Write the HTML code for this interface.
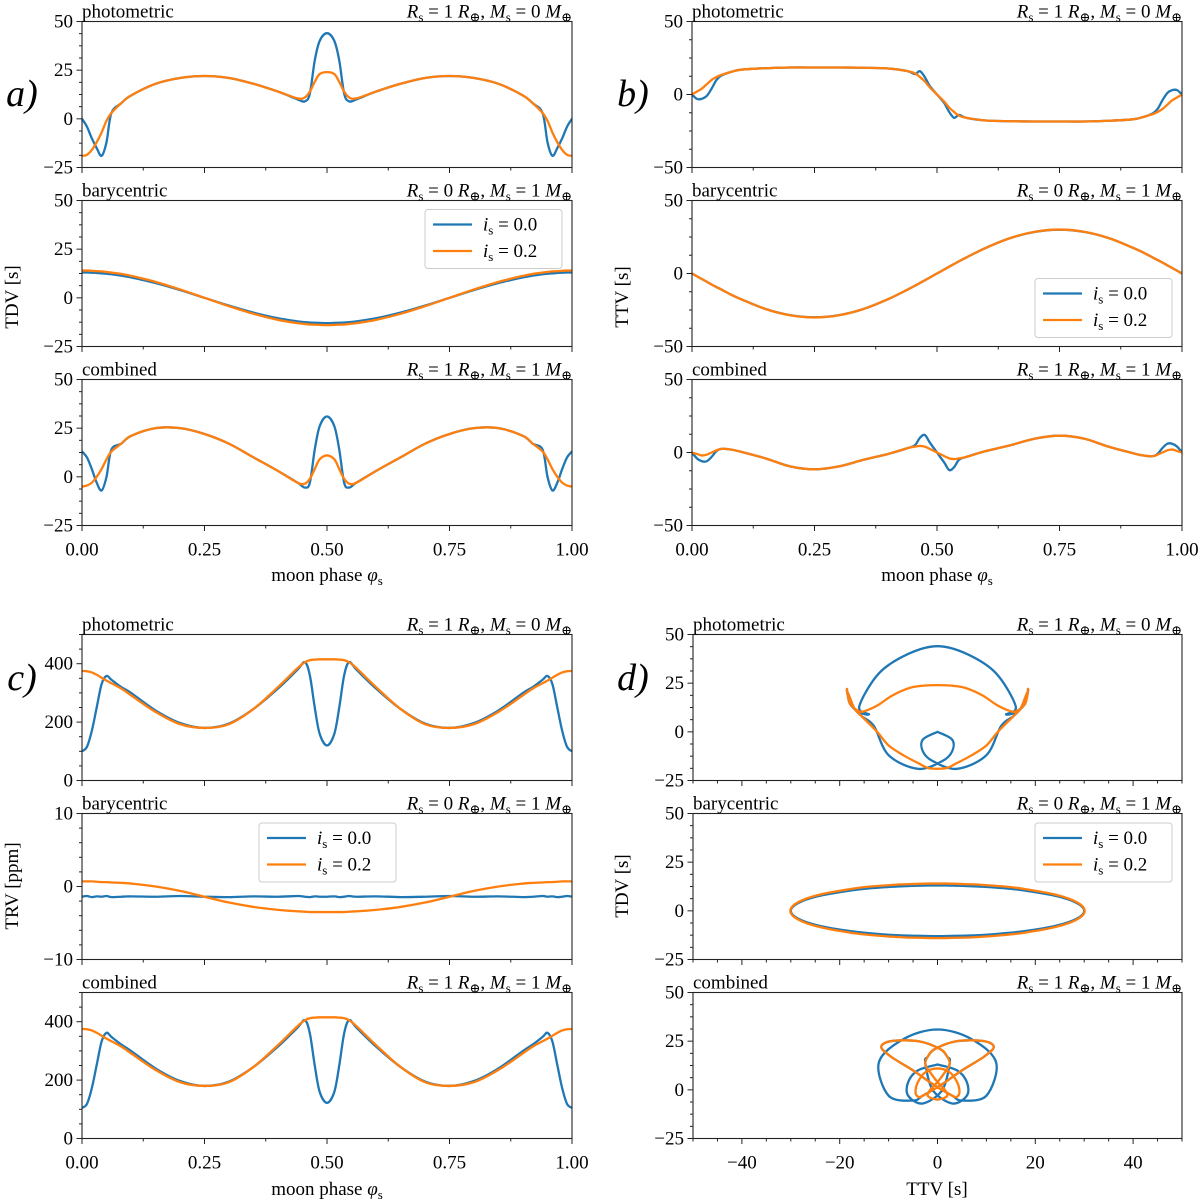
<!DOCTYPE html>
<html><head><meta charset="utf-8"><style>
html,body{margin:0;padding:0;background:#fff}
svg{display:block}
text{font-family:"Liberation Serif","DejaVu Serif",serif;fill:#000}
</style></head><body>
<svg id="fig" width="1200" height="1202" viewBox="0 0 1200 1202" xmlns="http://www.w3.org/2000/svg"></svg>
<script>
const phases=[0,.01,.02,.03,.04,.05,.06,.08,.1,.15,.2,.25,.3,.35,.4,.44,.455,.465,.475,.485,.5,.515,.525,.535,.545,.56,.6,.65,.7,.75,.8,.85,.9,.92,.94,.95,.96,.97,.98,.99,1];
const tdvPhotoBlue=[0,-4,-10,-15,-19,-12,3,8,12,18,21,22,21,18,14,10,9,13,30,40,44,40,30,13,9,10,14,18,21,22,21,18,12,8,3,-12,-19,-15,-10,-4,0];
const tdvPhotoOrange=[-19,-18.5,-16,-12,-7,-1,3,8,12,18,21,22,21,18,14,10.5,11,14,19,23,24,23,19,14,11,10.5,14,18,21,22,21,18,12,8,3,-1,-7,-12,-16,-18.5,-19];
const tdvBaryBlue=[13,13,12.9,12.8,12.6,12.4,12.1,11.4,10.5,7.6,4,0,-4,-7.6,-10.5,-12.1,-12.5,-12.7,-12.8,-12.9,-13,-12.9,-12.8,-12.7,-12.5,-12.1,-10.5,-7.6,-4,0,4,7.6,10.5,11.4,12.1,12.4,12.6,12.8,12.9,13,13];
const tdvBaryOrange=[14,14,13.9,13.7,13.6,13.3,13,12.3,11.3,8.2,4.3,0,-4.3,-8.2,-11.3,-13,-13.4,-13.7,-13.8,-13.9,-14,-13.9,-13.8,-13.7,-13.4,-13,-11.3,-8.2,-4.3,0,4.3,8.2,11.3,12.3,13,13.3,13.6,13.7,13.9,14,14];
const tdvCombBlue=[13,10,4,-3,-7,0,14,17,21,25,25,22,17,10,3,-3,-5.5,-3,14,26,31,26,14,-3,-5.5,-3,3,10,17,22,25,25,21,17,14,0,-7,-3,4,10,13];
const tdvCombOrange=[-5,-4.5,-3,0,4,9,13,17,21,25,25,22,17,10,3,-3,-3.5,-1,4,9,11,9,4,-1,-3.5,-3,3,10,17,22,25,25,21,17,13,9,4,0,-3,-4.5,-5];
const ttvPhotoBlue=[0,-3,-3,-1,4,10,13,15.5,17,18,18.5,18.5,18.5,18.3,17.8,16,14,16,12,6,0,-6,-12,-16,-14,-16,-17.8,-18.3,-18.5,-18.5,-18.5,-18,-17,-15.5,-13,-10,-4,1,3,3,0];
const ttvPhotoOrange=[0,2,4,7,10,12,13.5,15.5,17,18,18.5,18.5,18.5,18.3,17.8,16,14.5,12,9,5,0,-5,-9,-12,-14.5,-16,-17.8,-18.3,-18.5,-18.5,-18.5,-18,-17,-15.5,-13.5,-12,-10,-7,-4,-2,0];
const ttvBaryBlue=[0,-1.9,-3.8,-5.6,-7.5,-9.3,-11,-14.5,-17.6,-24.3,-28.5,-30,-28.5,-24.3,-17.6,-11,-8.4,-6.5,-4.7,-2.8,0,2.8,4.7,6.5,8.4,11,17.6,24.3,28.5,30,28.5,24.3,17.6,14.5,11,9.3,7.5,5.6,3.8,1.9,0];
const ttvBaryOrange=[0,-1.9,-3.8,-5.6,-7.5,-9.3,-11,-14.5,-17.6,-24.3,-28.6,-30.1,-28.6,-24.3,-17.6,-11,-8.4,-6.5,-4.7,-2.8,0,2.8,4.7,6.5,8.4,11,17.6,24.3,28.6,30.1,28.6,24.3,17.6,14.5,11,9.3,7.5,5.6,3.8,1.9,0];
const ttvCombBlue=[0,-4,-6,-6,-3,1,2.5,2,0.5,-4,-9.5,-11.5,-9.5,-5,-1,3,5,10,12,7,0,-7,-12,-10,-5,-3,1,5,9.5,11.5,9.5,4,-0.5,-2,-2.5,-1,3,6,6,4,0];
const ttvCombOrange=[0,-1,-2,-1.5,0,1.5,2.5,2,0.5,-4,-9.5,-11.5,-9.5,-5,-1,3,4,4.5,4,2.5,0,-2.5,-4,-4.5,-4,-3,1,5,9.5,11.5,9.5,4,-0.5,-2,-2.5,-1.5,0,1.5,2,1,0];
const trvPhotoBlue=[100,115,170,250,330,358,345,320,300,240,197,180,195,245,315,380,405,360,250,160,120,160,250,360,405,380,315,245,195,180,197,240,300,320,345,358,330,250,170,115,100];
const trvPhotoOrange=[375,374,370,362,352,342,333,315,292,235,193,180,193,245,320,385,405,412,414,415,415,415,414,412,405,385,320,245,193,180,193,235,292,315,333,342,352,362,370,374,375];
const trvBaryBlue=[-1.4,-1.3,-1.45,-1.35,-1.4,-1.3,-1.45,-1.4,-1.35,-1.4,-1.3,-1.4,-1.45,-1.35,-1.4,-1.3,-1.4,-1.45,-1.35,-1.4,-1.4,-1.35,-1.45,-1.4,-1.3,-1.4,-1.35,-1.45,-1.4,-1.3,-1.4,-1.35,-1.45,-1.4,-1.3,-1.4,-1.35,-1.45,-1.4,-1.3,-1.4];
const trvBaryOrange=[0.7,0.7,0.7,0.65,0.6,0.6,0.55,0.5,0.4,0,-0.6,-1.4,-2.2,-2.8,-3.2,-3.4,-3.45,-3.5,-3.5,-3.5,-3.5,-3.5,-3.5,-3.5,-3.45,-3.4,-3.2,-2.8,-2.2,-1.4,-0.6,0,0.4,0.5,0.55,0.6,0.6,0.65,0.7,0.7,0.7];
const trvCombBlue=[105,118,172,252,332,362,348,322,300,240,197,180,195,245,315,380,405,360,250,160,122,160,250,360,405,380,315,245,195,180,197,240,300,322,348,362,332,252,172,118,105];
const trvCombOrange=[375,374,370,362,352,342,333,315,292,235,193,180,193,245,320,385,405,412,414,415,415,415,414,412,405,385,320,245,193,180,193,235,292,315,333,342,352,362,370,374,375];
const phaseTicks=[0,0.25,0.5,0.75,1];
const phaseTickLabels=["0.00","0.25","0.50","0.75","1.00"];
const ttvTicks=[-40,-20,0,20,40];
const ttvTickLabels=["\u221240","\u221220","0","20","40"];

const NS="http://www.w3.org/2000/svg";
const svg=document.getElementById('fig');
const BLUE="#1f77b4",ORANGE="#ff7f0e";
function mk(tag,attrs,parent){const e=document.createElementNS(NS,tag);for(const k in attrs)e.setAttribute(k,attrs[k]);(parent||svg).appendChild(e);return e;}
function fmt(v){return v<0?"\u2212"+(-v):""+v;}
function smoothPath(pts){
  if(pts.length<2)return "";
  let d="M"+pts[0][0].toFixed(2)+","+pts[0][1].toFixed(2);
  for(let i=0;i<pts.length-1;i++){
    const p0=pts[i-1]||pts[i],p1=pts[i],p2=pts[i+1],p3=pts[i+2]||p2;
    const c1x=p1[0]+(p2[0]-p0[0])/6,c1y=p1[1]+(p2[1]-p0[1])/6;
    const c2x=p2[0]-(p3[0]-p1[0])/6,c2y=p2[1]-(p3[1]-p1[1])/6;
    d+="C"+c1x.toFixed(2)+","+c1y.toFixed(2)+" "+c2x.toFixed(2)+","+c2y.toFixed(2)+" "+p2[0].toFixed(2)+","+p2[1].toFixed(2);
  }
  return d;
}
function mathTitle(r,m){
  return '<tspan font-style="italic">R</tspan><tspan font-size="13" dy="4">s</tspan><tspan dy="-4"> = '+r+' </tspan><tspan font-style="italic">R</tspan><tspan font-size="13" dy="4">\u2295</tspan><tspan dy="-4">, </tspan><tspan font-style="italic">M</tspan><tspan font-size="13" dy="4">s</tspan><tspan dy="-4"> = '+m+' </tspan><tspan font-style="italic">M</tspan><tspan font-size="13" dy="4">\u2295</tspan>';
}
let clipId=0;
function panel(o){
  const g=mk('g',{});
  
  
  const W=o.x1-o.x0,H=o.h,top=o.top,bot=o.top+o.h;
  const sx=v=>o.x0+(v-o.xmin)/(o.xmax-o.xmin)*W;
  const sy=v=>bot-(v-o.ymin)/(o.ymax-o.ymin)*H;
  // y ticks
  const yStep=(o.yMajor[1]-o.yMajor[0])/o.ySub;
  for(let v=o.ymin;v<=o.ymax+1e-9;v+=yStep){
    const isMaj=o.yMajor.some(m=>Math.abs(m-v)<1e-6);
    const y=sy(v);
    const t=mk('line',{x1:o.x0,x2:o.x0-(isMaj?5.5:3),y1:y,y2:y,stroke:'#222','stroke-width':1},g);
    
    
  }
  o.yMajor.forEach(v=>{
    const t=mk('text',{x:o.x0-9,y:sy(v)+6,'text-anchor':'end','font-size':19},g);
    
    
    t.textContent=fmt(v);
  });
  // x ticks
  const xStep=(o.xMajor[1]-o.xMajor[0])/o.xSub;
  for(let v=o.xmin;v<=o.xmax+1e-9;v+=xStep){
    const isMaj=o.xMajor.some(m=>Math.abs(m-v)<1e-6);
    const x=sx(v);
    const t=mk('line',{x1:x,x2:x,y1:bot,y2:bot+(isMaj?5.5:3),stroke:'#222','stroke-width':1},g);
    
    
  }
  if(o.xLabels){
    o.xMajor.forEach((v,i)=>{
      const t=mk('text',{x:sx(v),y:bot+30,'text-anchor':'middle','font-size':19},g);
      
      
      t.textContent=o.xLabels[i];
    });
  }
  // series
  const cid='c'+(clipId++);
  const cp=mk('clipPath',{id:cid},g);
  mk('rect',{x:o.x0,y:top,width:W,height:H},cp);
  const sg=mk('g',{'clip-path':'url(#'+cid+')'},g);
  o.series.forEach(s=>{
    const pts=s.xs.map((xv,i)=>[sx(xv),sy(s.ys[i])]);
    const p=mk('path',{d:smoothPath(pts),fill:'none',stroke:s.color,'stroke-width':2.3,'stroke-linejoin':'round','stroke-linecap':'round'},sg);
    
    
  });
  const fr=mk('rect',{x:o.x0,y:top,width:W,height:H,fill:'none',stroke:'#222','stroke-width':1.1},g);
  
  
  const tl=mk('text',{x:o.x0,y:top-4,'font-size':19},g);
  
  
  tl.textContent=o.titleL;
  const tr=mk('text',{x:o.x1,y:top-4,'text-anchor':'end','font-size':19},g);
  
  
  tr.innerHTML=mathTitle(o.r,o.m);
  if(o.legend){
    const L=o.legend;
    const lg=mk('g',{},g);
    
    
    mk('rect',{x:L.x,y:L.y,width:137,height:59,rx:3,fill:'#fff','fill-opacity':0.85,stroke:'#ccc','stroke-width':1},lg);
    [[BLUE,'0.0'],[ORANGE,'0.2']].forEach((e,i)=>{
      const yy=L.y+15+i*26.5;
      const ln=mk('line',{x1:L.x+8,x2:L.x+47,y1:yy,y2:yy,stroke:e[0],'stroke-width':2.3},lg);
      
      
      const tx=mk('text',{x:L.x+58,y:yy+6,'font-size':19},lg);
      
      
      tx.innerHTML='<tspan font-style="italic">i</tspan><tspan font-size="13" dy="4">s</tspan><tspan dy="-4"> = '+e[1]+'</tspan>';
    });
  }
}
const tops=[21.5,200.5,379.5,634.5,813.5,992.5];
const H=146;
const L0=82,L1=572,R0=692,R1=1182;
const phaseX={xmin:0,xmax:1,xMajor:phaseTicks,xSub:2};
const ttvX={xmin:-50,xmax:50,xMajor:ttvTicks,xSub:4};
const titles=[['photometric',1,0],['barycentric',0,1],['combined',1,1]];
// a) TDV
const tdvSets=[[tdvPhotoBlue,tdvPhotoOrange],[tdvBaryBlue,tdvBaryOrange],[tdvCombBlue,tdvCombOrange]];
const ttvSets=[[ttvPhotoBlue,ttvPhotoOrange],[ttvBaryBlue,ttvBaryOrange],[ttvCombBlue,ttvCombOrange]];
const trvSets=[[trvPhotoBlue,trvPhotoOrange],[trvBaryBlue,trvBaryOrange],[trvCombBlue,trvCombOrange]];
for(let k=0;k<3;k++){
  panel(Object.assign({name:'tdv-'+titles[k][0]+'-panel',x0:L0,x1:L1,top:tops[k],h:H,ymin:-25,ymax:50,yMajor:[-25,0,25,50],ySub:4,
    xLabels:k==2?phaseTickLabels:null,titleL:titles[k][0],r:titles[k][1],m:titles[k][2],
    legend:k==1?{x:425,y:209.5}:null,
    series:[{name:'tdv-is-0.0-line',xs:phases,ys:tdvSets[k][0],color:BLUE},{name:'tdv-is-0.2-line',xs:phases,ys:tdvSets[k][1],color:ORANGE}]},phaseX));
  panel(Object.assign({name:'ttv-'+titles[k][0]+'-panel',x0:R0,x1:R1,top:tops[k],h:H,ymin:-50,ymax:50,yMajor:[-50,0,50],ySub:4,
    xLabels:k==2?phaseTickLabels:null,titleL:titles[k][0],r:titles[k][1],m:titles[k][2],
    legend:k==1?{x:1035,y:278.5}:null,
    series:[{name:'ttv-is-0.0-line',xs:phases,ys:ttvSets[k][0],color:BLUE},{name:'ttv-is-0.2-line',xs:phases,ys:ttvSets[k][1],color:ORANGE}]},phaseX));
  const trvR=k==1?{ymin:-10,ymax:10,yMajor:[-10,0,10],ySub:5}:{ymin:0,ymax:500,yMajor:[0,200,400],ySub:4};
  panel(Object.assign({name:'trv-'+titles[k][0]+'-panel',x0:L0,x1:L1,top:tops[k+3],h:H,
    xLabels:k==2?phaseTickLabels:null,titleL:titles[k][0],r:titles[k][1],m:titles[k][2],
    legend:k==1?{x:259,y:823}:null,
    series:[{name:'trv-is-0.0-line',xs:phases,ys:trvSets[k][0],color:BLUE},{name:'trv-is-0.2-line',xs:phases,ys:trvSets[k][1],color:ORANGE}]},phaseX,trvR));
  panel(Object.assign({name:'ttv-tdv-'+titles[k][0]+'-panel',x0:R0+1,x1:R1,top:tops[k+3],h:H,ymin:-25,ymax:50,yMajor:[-25,0,25,50],ySub:4,
    xLabels:k==2?ttvTickLabels:null,titleL:titles[k][0],r:titles[k][1],m:titles[k][2],
    legend:k==1?{x:1035,y:823}:null,
    series:[{name:'ttv-tdv-is-0.0-loop',xs:ttvSets[k][0],ys:tdvSets[k][0],color:BLUE},{name:'ttv-tdv-is-0.2-loop',xs:ttvSets[k][1],ys:tdvSets[k][1],color:ORANGE}]},ttvX));
}
function label(txt,x,y,rot,name,size,italic){
  const t=mk('text',{x:x,y:y,'text-anchor':'middle','font-size':size||19});
  if(rot)t.setAttribute('transform','rotate(-90 '+x+' '+y+')');
  if(italic)t.setAttribute('font-style','italic');
  
  
  t.innerHTML=txt;
  return t;
}
label('TDV [s]',18,297,true,'y-axis-title-tdv');
label('TTV [s]',628,297,true,'y-axis-title-ttv');
label('TRV [ppm]',18,886,true,'y-axis-title-trv');
label('TDV [s]',628,886,true,'y-axis-title-tdv-d');
const phaseLbl='moon phase <tspan font-style="italic">\u03c6</tspan><tspan font-size="13" dy="4">s</tspan>';
label(phaseLbl,327,581,false,'x-axis-title-a');
label(phaseLbl,937,581,false,'x-axis-title-b');
label(phaseLbl,327,1195,false,'x-axis-title-c');
label('TTV [s]',937,1195,false,'x-axis-title-d');
label('a)',22,106,false,'panel-label-a',38,true);
label('b)',633,106,false,'panel-label-b',38,true);
label('c)',22,690,false,'panel-label-c',38,true);
label('d)',633,690,false,'panel-label-d',38,true);
</script>
</body></html>
